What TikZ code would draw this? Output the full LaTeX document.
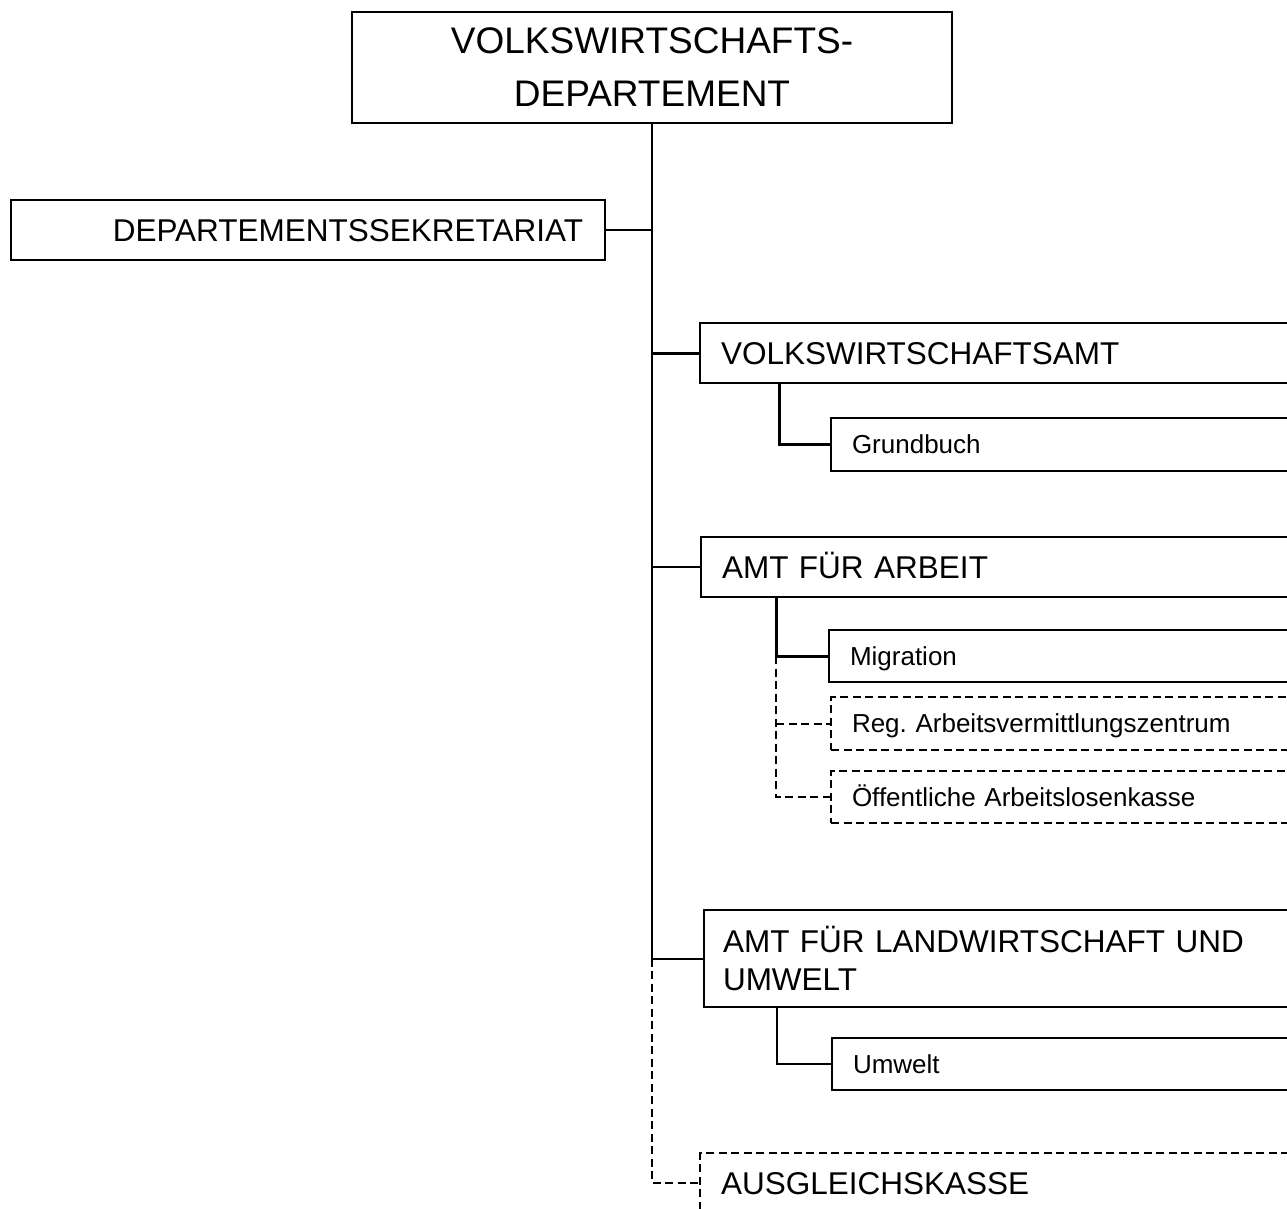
\documentclass[tikz,border=0pt]{standalone}
\usepackage{fontspec}
\setmainfont{Liberation Sans}
\usetikzlibrary{positioning}
\frenchspacing

\tikzset{
  org/.style={draw, line width=2pt, anchor=north west, align=left, inner xsep=21pt, inner ysep=0pt},
  grand/.style={font=\fontsize{31.5}{38}\selectfont, text width=560pt},
  petit/.style={font=\fontsize{26}{31}\selectfont, text width=440pt},
  lignegr/.style={text height=22.7pt, text depth=0pt},
  lignept/.style={text height=18.7pt, text depth=0pt},
  gestr/.style={dash pattern=on 8pt off 4.5pt},
  lien/.style={line width=2pt},
  lienfort/.style={line width=3pt},
}

\begin{document}
\begin{tikzpicture}[x=1pt,y=-1pt]
  \useasboundingbox (0,0) rectangle (1287,1209);
  \clip (0,0) rectangle (1287,1209);

  % ------ departement ------
  \node[draw, line width=2pt, minimum width=600pt, minimum height=111pt, align=center,
        font=\fontsize{37}{53}\selectfont] (D) at (652,67.5) {VOLKSWIRTSCHAFTS-\\DEPARTEMENT};
  \node[draw, line width=2pt, anchor=north west, text width=550pt, align=right, inner xsep=22pt,
        inner ysep=0pt, minimum height=60pt, lignegr, font=\fontsize{31.5}{38}\selectfont] (S) at (10,199) {DEPARTEMENTSSEKRETARIAT};

  % ------ aemter ------
  \node[org, grand, lignegr, minimum height=60pt] (VA) at (699,322) {VOLKSWIRTSCHAFTSAMT};
  \node[org, petit, lignept, minimum height=53pt] (GB) at (830,417) {Grundbuch};
  \node[org, grand, lignegr, minimum height=60pt] (AA) at (700,536) {AMT FÜR ARBEIT};
  \node[org, petit, lignept, minimum height=52pt] (MI) at (828,629) {Migration};
  \node[org, petit, lignept, gestr, minimum height=53pt] (RA) at (830,696) {Reg. Arbeitsvermittlungszentrum};
  \node[org, petit, lignept, gestr, minimum height=52pt] (OA) at (830,770) {Öffentliche Arbeitslosenkasse};
  \node[org, grand, inner xsep=19pt, minimum height=97pt] (LW) at (703,909) {AMT FÜR LANDWIRTSCHAFT UND\\UMWELT};
  \node[org, petit, lignept, minimum height=52pt] (UW) at (831,1037) {Umwelt};
  \node[org, grand, lignegr, gestr, minimum height=60pt] (AK) at (699,1152) {AUSGLEICHSKASSE};

  % ------ tronc ------
  \draw[lien] (D.south) -- (D.south |- LW.west);
  \draw[lien, gestr] (D.south |- LW.west) |- (AK.west);
  \draw[lien] (S.east) -- (S.east -| D.south);
  \draw[lienfort] (VA.west -| D.south) -- (VA.west);
  \draw[lien] (AA.west -| D.south) -- (AA.west);
  \draw[lien] (LW.west -| D.south) -- (LW.west);

  % ------ branches ------
  \coordinate (a0) at ([xshift=80pt]VA.south west);
  \coordinate (a1) at ([xshift=76pt]AA.south west);
  \coordinate (a2) at ([xshift=74pt]LW.south west);
  \draw[lienfort] (a0) |- (GB.west);
  \draw[lienfort] (a1) |- (MI.west);
  \draw[lien, gestr] (a1 |- MI.west) |- (OA.west);
  \draw[lien, gestr] (a1 |- RA.west) -- (RA.west);
  \draw[lien] (a2) |- (UW.west);
\end{tikzpicture}
\end{document}
